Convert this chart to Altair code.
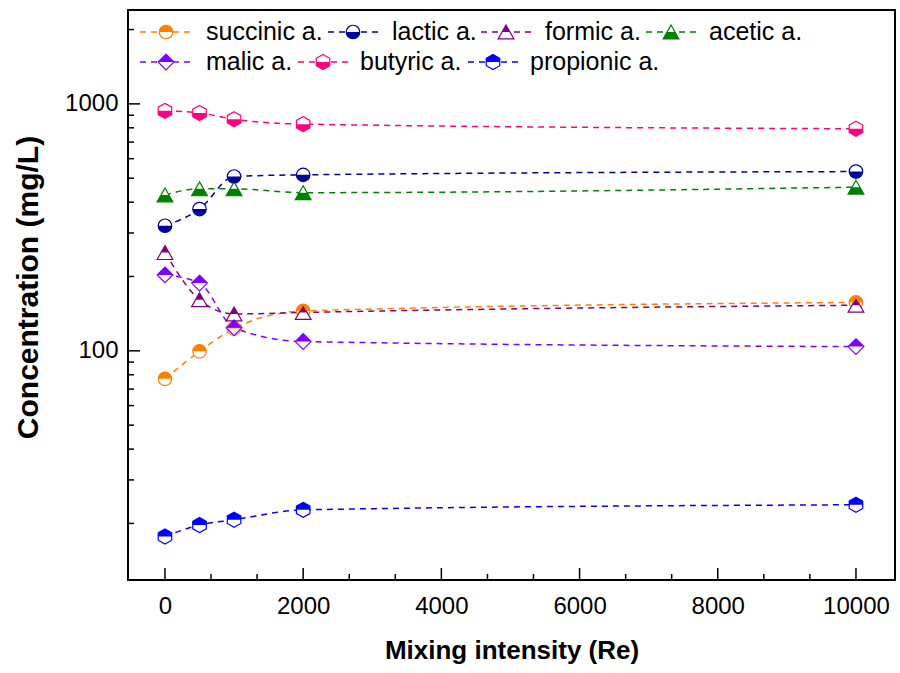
import altair as alt
import pandas as pd

# ---------------- data ----------------
x_vals = [0, 500, 1000, 2000, 10000]
series_names = ["succinic a.", "lactic a.", "formic a.", "acetic a.",
                "malic a.", "butyric a.", "propionic a."]
succinic = [77, 99.5, 123, 145, 157]
lactic = [321, 375, 508, 516, 532]
formic = [250, 161, 141, 143, 153]
acetic = [428, 453, 453, 437, 460]
malic = [203, 188, 124, 109, 104]
butyric = [937, 919, 867, 828, 793]
propionic = [17.7, 19.7, 20.7, 22.7, 23.8]
values = [succinic, lactic, formic, acetic, malic, butyric, propionic]

x_major = [0, 2000, 4000, 6000, 8000, 10000]
x_minor = [667, 1333, 2667, 3333, 4667, 5333, 6667, 7333, 8667, 9333]
y_major = [100, 1000]
y_minor = [20, 30, 40, 50, 60, 70, 80, 90, 200, 300, 400, 500, 600, 700, 800, 900, 2000]

rows = []
for name, vals in zip(series_names, values):
    for xv, yv in zip(x_vals, vals):
        rows.append({"x": xv, "value": yv, "series": name})
df = pd.DataFrame(rows)

# ---------------- styles ----------------
colors = ["#FF8000", "#00009C", "#800080", "#008000", "#8000FF", "#FF0080", "#0000FF"]

CIRCLE = "M -0.9 0 A 0.9 0.9 0 1 1 0.9 0 A 0.9 0.9 0 1 1 -0.9 0 Z"
CIRC_TOP = "M -0.9 0 A 0.9 0.9 0 0 1 0.9 0 Z"
CIRC_BOT = "M -0.9 0 A 0.9 0.9 0 0 0 0.9 0 Z"
TRI = "M 0 -0.925 L 1.05 0.925 L -1.05 0.925 Z"
TRI_TOP = "M 0 -0.925 L 0.525 0 L -0.525 0 Z"
TRI_BOT = "M -0.525 0 L 0.525 0 L 1.05 0.925 L -1.05 0.925 Z"
DIAM = "M 0 -1.05 L 1.05 0 L 0 1.05 L -1.05 0 Z"
DIAM_TOP = "M 0 -1.05 L 1.05 0 L -1.05 0 Z"
HEX = "M 0 -1 L 0.9 -0.5 L 0.9 0.5 L 0 1 L -0.9 0.5 L -0.9 -0.5 Z"
HEX_TOP = "M -0.9 0 L -0.9 -0.5 L 0 -1 L 0.9 -0.5 L 0.9 0 Z"
HEX_BOT = "M -0.9 0 L 0.9 0 L 0.9 0.5 L 0 1 L -0.9 0.5 Z"

outline_shapes = [CIRCLE, CIRCLE, TRI, TRI, DIAM, HEX, HEX]
fill_shapes = [CIRC_TOP, CIRC_BOT, TRI_TOP, TRI_BOT, DIAM_TOP, HEX_BOT, HEX_TOP]

FONT = "Liberation Sans"
W, H = 767, 570
MSIZE = 225
DASH = [6, 5]

xscale = alt.Scale(domain=[-535, 10565], nice=False, zero=False)
yscale = alt.Scale(type="log", domain=[11.8, 2400], nice=False)
col_scale = alt.Scale(domain=series_names, range=colors)

xaxis = alt.Axis(values=x_major, format="d", title="Mixing intensity (Re)",
                 labelPadding=14, titlePadding=19, titleFontSize=26)
yaxis = alt.Axis(values=y_major, format="d", title="Concentration (mg/L)",
                 labelPadding=10, titlePadding=21, titleFontSize=30, titleY=277)

# ---------------- legend layout (pixels inside plot area) ----------------
leg = pd.DataFrame({
    "series": series_names,
    "lx0": [12, 200, 353, 518, 12, 170, 340],
    "lx1": [64, 250, 403, 568, 64, 220, 390],
    "mx": [38, 225, 378, 543, 38, 195, 365],
    "tx": [78, 264, 417, 581, 78, 232, 402],
    "ly": [22, 22, 22, 22, 52, 52, 52],
})

# ---------------- layers ----------------
X = alt.X("x:Q", scale=xscale, axis=xaxis)
Y = alt.Y("value:Q", scale=yscale, axis=yaxis)

lines = alt.Chart(df).mark_line(strokeDash=DASH, strokeWidth=1.5, interpolate="monotone").encode(
    x=X, y=Y,
    color=alt.Color("series:N", scale=col_scale, legend=None),
)

outline = alt.Chart(df).mark_point(filled=True, fill="white", size=MSIZE, strokeWidth=1.2, opacity=1).encode(
    x=X, y=Y,
    shape=alt.Shape("series:N", scale=alt.Scale(domain=series_names, range=outline_shapes), legend=None),
    stroke=alt.Stroke("series:N", scale=col_scale, legend=None),
)

halves = alt.Chart(df).mark_point(filled=True, size=MSIZE, opacity=1).encode(
    x=X, y=Y,
    shape=alt.Shape("series:N", scale=alt.Scale(domain=series_names, range=fill_shapes), legend=None),
    color=alt.Color("series:N", scale=col_scale, legend=None),
)

# inward ticks
xt_major = alt.Chart(pd.DataFrame({"t": x_major})).mark_rule(color="black", strokeWidth=1.5).encode(
    x=alt.X("t:Q", scale=xscale, axis=xaxis), y=alt.value(H), y2=alt.value(H - 12))
xt_minor = alt.Chart(pd.DataFrame({"t": x_minor})).mark_rule(color="black", strokeWidth=1.5).encode(
    x=alt.X("t:Q", scale=xscale, axis=xaxis), y=alt.value(H), y2=alt.value(H - 6))
yt_major = alt.Chart(pd.DataFrame({"t": y_major})).mark_rule(color="black", strokeWidth=1.5).encode(
    y=alt.Y("t:Q", scale=yscale, axis=yaxis), x=alt.value(0), x2=alt.value(12))
yt_minor = alt.Chart(pd.DataFrame({"t": y_minor})).mark_rule(color="black", strokeWidth=1.5).encode(
    y=alt.Y("t:Q", scale=yscale, axis=yaxis), x=alt.value(0), x2=alt.value(6))

# legend
leg_line = alt.Chart(leg).mark_rule(strokeDash=DASH, strokeWidth=1.5).encode(
    x=alt.X("lx0:Q", scale=None), x2="lx1:Q",
    y=alt.Y("ly:Q", scale=None),
    color=alt.Color("series:N", scale=col_scale, legend=None))
leg_out = alt.Chart(leg).mark_point(filled=True, fill="white", size=MSIZE, strokeWidth=1.2, opacity=1).encode(
    x=alt.X("mx:Q", scale=None), y=alt.Y("ly:Q", scale=None),
    shape=alt.Shape("series:N", scale=alt.Scale(domain=series_names, range=outline_shapes), legend=None),
    stroke=alt.Stroke("series:N", scale=col_scale, legend=None))
leg_half = alt.Chart(leg).mark_point(filled=True, size=MSIZE, opacity=1).encode(
    x=alt.X("mx:Q", scale=None), y=alt.Y("ly:Q", scale=None),
    shape=alt.Shape("series:N", scale=alt.Scale(domain=series_names, range=fill_shapes), legend=None),
    color=alt.Color("series:N", scale=col_scale, legend=None))
leg_text = alt.Chart(leg).mark_text(align="left", baseline="middle", fontSize=25, font=FONT, color="black").encode(
    x=alt.X("tx:Q", scale=None), y=alt.Y("ly:Q", scale=None),
    text="series:N")

chart = alt.layer(
    lines, outline, halves, xt_major, xt_minor, yt_major, yt_minor,
    leg_line, leg_out, leg_half, leg_text
).resolve_scale(
    shape="independent"
).properties(
    width=W, height=H,
    autosize=alt.AutoSizeParams(type="none"),
    padding={"left": 128, "top": 10, "right": 5, "bottom": 93},
).configure_view(
    stroke="black", strokeWidth=2
).configure_axis(
    domain=False, ticks=False, grid=False,
    labelFont=FONT, labelFontSize=24, labelColor="black",
    titleFont=FONT, titleFontWeight="bold", titleColor="black",
)

chart.save("out.html", embed_options={"renderer": "svg", "actions": False})
